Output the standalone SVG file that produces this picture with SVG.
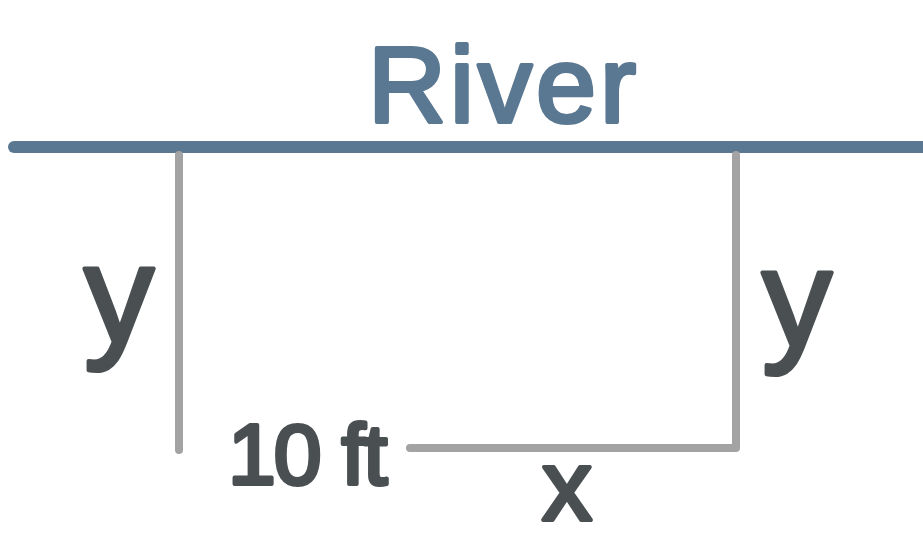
<svg xmlns="http://www.w3.org/2000/svg" width="923" height="540" viewBox="0 0 923 540">
<style>
.river{stroke:#5a7891;stroke-width:12;stroke-linecap:round;fill:none}
.fence{stroke:#a3a3a3;stroke-width:8;stroke-linecap:round;stroke-linejoin:round;fill:none}
.lbl{font-family:"Liberation Sans",Arial,sans-serif;font-weight:normal;fill:#4a4f52;stroke:#4a4f52;stroke-width:4;stroke-linejoin:round}
.rlbl{font-family:"Liberation Sans",Arial,sans-serif;font-weight:normal;fill:#5a7891;stroke:#5a7891;stroke-width:4;stroke-linejoin:round}
</style>
<rect width="923" height="540" fill="#ffffff"/>
<g id="river">
<line class="river" x1="14" y1="147" x2="923" y2="147"/>
<text class="rlbl" x="368" y="122" font-size="108" letter-spacing="4">River</text>
</g>
<g id="fence">
<polyline class="fence" points="179,155 179,450"/>
<polyline class="fence" points="410,448 736,448 736,155"/>
</g>
<g id="labels">
<text class="lbl" x="84" y="342" font-size="140">y</text>
<text class="lbl" x="762" y="346" font-size="140">y</text>
<text class="lbl" x="228" y="484" font-size="86" letter-spacing="-2">10 ft</text>
<text class="lbl" x="542" y="520" font-size="100">x</text>
</g>
</svg>
